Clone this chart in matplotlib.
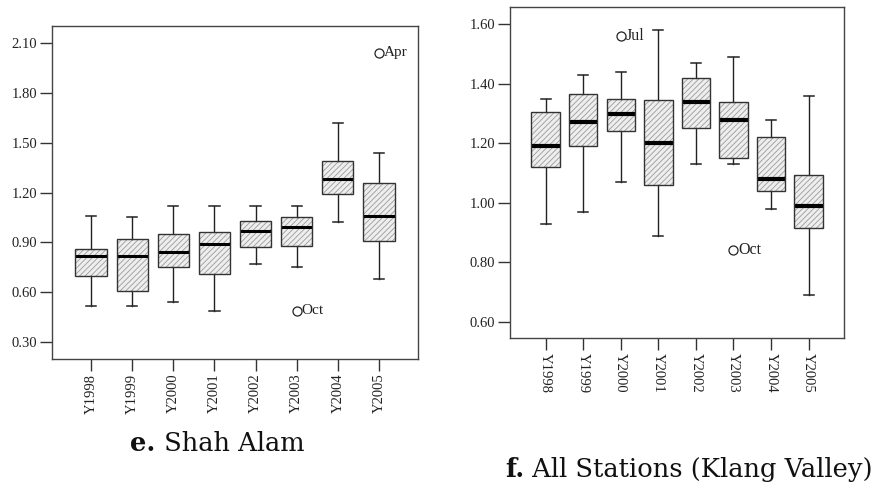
import matplotlib
matplotlib.use("Agg")
import matplotlib.pyplot as plt
from matplotlib.patches import PathPatch

years = ["Y1998", "Y1999", "Y2000", "Y2001", "Y2002", "Y2003", "Y2004", "Y2005"]

# e. Shah Alam
shah_whislo = [0.52, 0.52, 0.54, 0.49, 0.77, 0.75, 1.02, 0.68]
shah_q1 = [0.70, 0.61, 0.75, 0.71, 0.87, 0.88, 1.19, 0.91]
shah_med = [0.82, 0.82, 0.84, 0.89, 0.97, 0.99, 1.28, 1.06]
shah_q3 = [0.86, 0.92, 0.95, 0.96, 1.03, 1.05, 1.39, 1.26]
shah_whishi = [1.06, 1.05, 1.12, 1.12, 1.12, 1.12, 1.62, 1.44]
shah_out_year = ["Y2005", "Y2003"]
shah_out_label = ["Apr", "Oct"]
shah_out_value = [2.04, 0.49]
shah_yticks = [0.30, 0.60, 0.90, 1.20, 1.50, 1.80, 2.10]

# f. All Stations (Klang Valley)
klang_whislo = [0.93, 0.97, 1.07, 0.89, 1.13, 1.13, 0.98, 0.69]
klang_q1 = [1.12, 1.19, 1.24, 1.06, 1.25, 1.15, 1.04, 0.915]
klang_med = [1.19, 1.27, 1.30, 1.20, 1.34, 1.28, 1.08, 0.99]
klang_q3 = [1.305, 1.365, 1.35, 1.345, 1.42, 1.34, 1.22, 1.095]
klang_whishi = [1.35, 1.43, 1.44, 1.58, 1.47, 1.49, 1.28, 1.36]
klang_out_year = ["Y2000", "Y2003"]
klang_out_label = ["Jul", "Oct"]
klang_out_value = [1.56, 0.84]
klang_yticks = [0.60, 0.80, 1.00, 1.20, 1.40, 1.60]

TICK_FONT = "Liberation Serif"
CAPTION_FONT = "DejaVu Serif"
plt.rcParams["hatch.linewidth"] = 0.6


def stats_for(lo, q1, med, q3, hi):
    return [dict(whislo=a, q1=b, med=c, q3=d, whishi=e, fliers=[])
            for a, b, c, d, e in zip(lo, q1, med, q3, hi)]


def draw_panel(ax, stats, out_year, out_label, out_value, yticks, ylim,
               med_lw, capw, label_rot, out_fs):
    pos = list(range(1, len(years) + 1))
    bp = ax.bxp(stats, positions=pos, widths=0.76, patch_artist=True,
                showfliers=False, capwidths=capw,
                boxprops=dict(facecolor="#eeeeee", edgecolor="#9a9a9a",
                              hatch="//////", linewidth=0),
                medianprops=dict(color="black", linewidth=med_lw,
                                 solid_capstyle="butt"),
                whiskerprops=dict(color="#222222", linewidth=1.0),
                capprops=dict(color="#222222", linewidth=1.1))
    # crisp outline over each hatched box
    for b in bp["boxes"]:
        ax.add_patch(PathPatch(b.get_path(), facecolor="none",
                               edgecolor="#333333", linewidth=1.0,
                               zorder=b.get_zorder() + 0.1))
    for yr, lab, val in zip(out_year, out_label, out_value):
        x = years.index(yr) + 1
        ax.plot([x], [val], marker="o", ms=6.5, mfc="white", mec="#222222",
                mew=0.9, ls="none")
        ax.annotate(lab, xy=(x, val), xytext=(3.2, 0),
                    textcoords="offset points", ha="left", va="center",
                    fontsize=out_fs, family=TICK_FONT, color="#222222")
    ax.set_xlim(0.05, len(years) + 0.95)
    ax.set_ylim(*ylim)
    ax.set_xticks(pos)
    ax.set_xticklabels(years, rotation=label_rot, family=TICK_FONT,
                       fontsize=10.5, color="#222222")
    ax.set_yticks(yticks)
    ax.set_yticklabels([f"{v:.2f}" for v in yticks], family=TICK_FONT,
                       fontsize=10.5, color="#222222")
    ax.tick_params(direction="out", length=8.5, width=1.0, color="#333333",
                   pad=2)
    for s in ax.spines.values():
        s.set_color("#444444")
        s.set_linewidth(1.0)


fig = plt.figure(figsize=(8.74, 4.94), dpi=100)
ax1 = fig.add_axes([0.0595, 0.2733, 0.4188, 0.674])
ax2 = fig.add_axes([0.5835, 0.3152, 0.3825, 0.670])

draw_panel(ax1, stats_for(shah_whislo, shah_q1, shah_med, shah_q3, shah_whishi),
           shah_out_year, shah_out_label, shah_out_value, shah_yticks,
           (0.20, 2.20), 2.2, 0.25, 90, 11)
draw_panel(ax2, stats_for(klang_whislo, klang_q1, klang_med, klang_q3, klang_whishi),
           klang_out_year, klang_out_label, klang_out_value, klang_yticks,
           (0.545, 1.657), 3.0, 0.27, -90, 11.5)

# captions with a bold panel letter
for x0, y0, letter, rest in [(0.149, 0.088, "e.", " Shah Alam"),
                             (0.578, 0.034, "f.", " All Stations (Klang Valley)")]:
    t = fig.text(x0, y0, letter, fontsize=18.5, family=CAPTION_FONT,
                 weight="bold", ha="left", va="baseline", color="#111111")
    ax1.annotate(rest, xy=(1, 0), xycoords=t, ha="left", va="bottom",
                 fontsize=18.5, family=CAPTION_FONT, color="#111111",
                 annotation_clip=False)

fig.savefig("out.png", dpi=100)
